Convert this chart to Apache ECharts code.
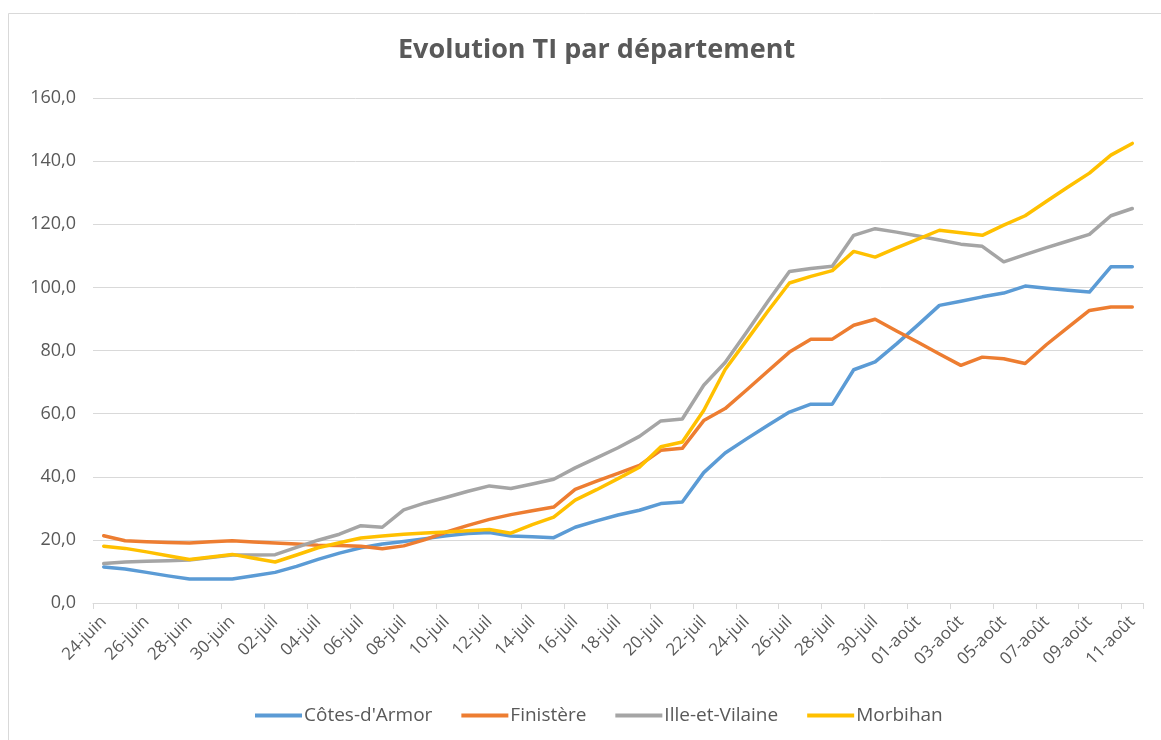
<!DOCTYPE html>
<html>
<head>
<meta charset="utf-8">
<script src="https://cdn.jsdelivr.net/npm/echarts@6/dist/echarts.min.js"></script>
<style>
html,body{margin:0;padding:0;background:#fff;}
#chart{width:1161px;height:740px;}
</style>
</head>
<body>
<div id="chart"></div>
<script>
const categories = [
  '24-juin','25-juin','26-juin','27-juin','28-juin','29-juin','30-juin',
  '01-juil','02-juil','03-juil','04-juil','05-juil','06-juil','07-juil','08-juil','09-juil','10-juil',
  '11-juil','12-juil','13-juil','14-juil','15-juil','16-juil','17-juil','18-juil','19-juil','20-juil',
  '21-juil','22-juil','23-juil','24-juil','25-juil','26-juil','27-juil','28-juil','29-juil','30-juil','31-juil',
  '01-août','02-août','03-août','04-août','05-août','06-août','07-août','08-août','09-août','10-août','11-août'
];
const seriesNames = ["Côtes-d'Armor", 'Finistère', 'Ille-et-Vilaine', 'Morbihan'];
const cotesArmor = [11.4,10.8,9.7,8.6,7.6,7.6,7.6,8.6,9.7,11.6,13.8,15.8,17.5,18.7,19.5,20.4,21.3,22.0,22.3,21.2,21.0,20.7,24.0,26.0,27.9,29.4,31.5,32.0,41.3,47.5,52.0,56.3,60.5,63.0,63.0,73.9,76.4,82.1,88.1,94.3,95.6,97.0,98.2,100.4,99.7,99.1,98.5,106.5,106.5];
const finistere = [21.3,19.7,19.4,19.2,19.0,19.4,19.7,19.3,19.0,18.7,18.3,18.2,18.0,17.2,18.1,20.1,22.5,24.6,26.5,28.0,29.2,30.4,36.0,38.6,41.1,43.6,48.4,49.0,57.8,61.6,67.5,73.5,79.5,83.6,83.6,88.0,89.9,86.2,82.6,78.9,75.3,77.9,77.4,75.9,81.9,87.3,92.7,93.8,93.8];
const illeEtVilaine = [12.5,13.0,13.2,13.4,13.6,14.4,15.2,15.2,15.3,17.6,19.9,21.8,24.5,24.0,29.5,31.7,33.5,35.4,37.1,36.3,37.7,39.2,42.8,46.0,49.2,52.8,57.7,58.3,69.0,76.2,85.8,95.6,105.0,106.0,106.7,116.5,118.6,117.5,116.3,115.0,113.7,113.0,108.1,110.4,112.6,114.7,116.8,122.7,125.0];
const morbihan = [18.0,17.3,16.2,15.0,13.8,14.6,15.4,14.2,13.0,15.2,17.5,19.1,20.6,21.2,21.8,22.2,22.5,22.9,23.3,22.1,24.8,27.2,32.6,35.9,39.4,43.0,49.5,51.0,61.0,74.0,83.2,92.5,101.4,103.5,105.3,111.4,109.6,112.5,115.3,118.1,117.3,116.5,119.7,122.7,127.3,131.8,136.2,141.9,145.6];
const colors = ['#5B9BD5', '#ED7D31', '#A5A5A5', '#FFC000'];
const allData = [cotesArmor, finistere, illeEtVilaine, morbihan];

const FONT = '"Open Sans", "Noto Sans", sans-serif';
const TXT = '#595959';

const chart = echarts.init(document.getElementById('chart'), null, {renderer: 'canvas'});
chart.setOption({
  animation: false,
  backgroundColor: '#fff',
  color: colors,
  textStyle: {fontFamily: FONT},
  graphic: [{
    type: 'rect',
    shape: {x: 8.5, y: 13.5, width: 1200, height: 800},
    style: {fill: 'none', stroke: '#D9D9D9', lineWidth: 1},
    silent: true, z: -1
  }],
  title: {
    text: 'Evolution TI par département',
    left: 393,
    top: 32,
    textStyle: {fontFamily: FONT, fontSize: 27, fontWeight: 'bold', color: TXT}
  },
  legend: {
    data: seriesNames,
    bottom: 10,
    left: 250,
    icon: 'rect',
    itemWidth: 47,
    itemHeight: 4,
    itemGap: 29,
    textStyle: {fontFamily: FONT, fontSize: 19, color: TXT, padding: [0, 0, 0, -3]}
  },
  grid: {left: 93, right: 18, top: 98, bottom: 137, containLabel: false},
  xAxis: {
    type: 'category',
    data: categories,
    boundaryGap: true,
    axisLine: {lineStyle: {color: '#D9D9D9', width: 1}},
    axisTick: {show: true, interval: 1, length: 6, lineStyle: {color: '#D9D9D9'}},
    axisLabel: {interval: 1, rotate: 45, margin: 16, fontFamily: FONT, fontSize: 17, color: TXT}
  },
  yAxis: {
    type: 'value',
    min: 0, max: 160, interval: 20,
    axisLine: {show: false},
    axisTick: {show: false},
    splitLine: {lineStyle: {color: '#D9D9D9', width: 1}},
    axisLabel: {
      margin: 17, fontFamily: FONT, fontSize: 18, color: TXT,
      formatter: v => v.toFixed(1).replace('.', ',')
    }
  },
  series: seriesNames.map((name, k) => ({
    name: name,
    type: 'line',
    data: allData[k],
    symbol: 'none',
    smooth: false,
    lineStyle: {width: 3.5, color: colors[k], cap: 'round', join: 'round'},
    itemStyle: {color: colors[k]}
  }))
});
</script>
</body>
</html>
